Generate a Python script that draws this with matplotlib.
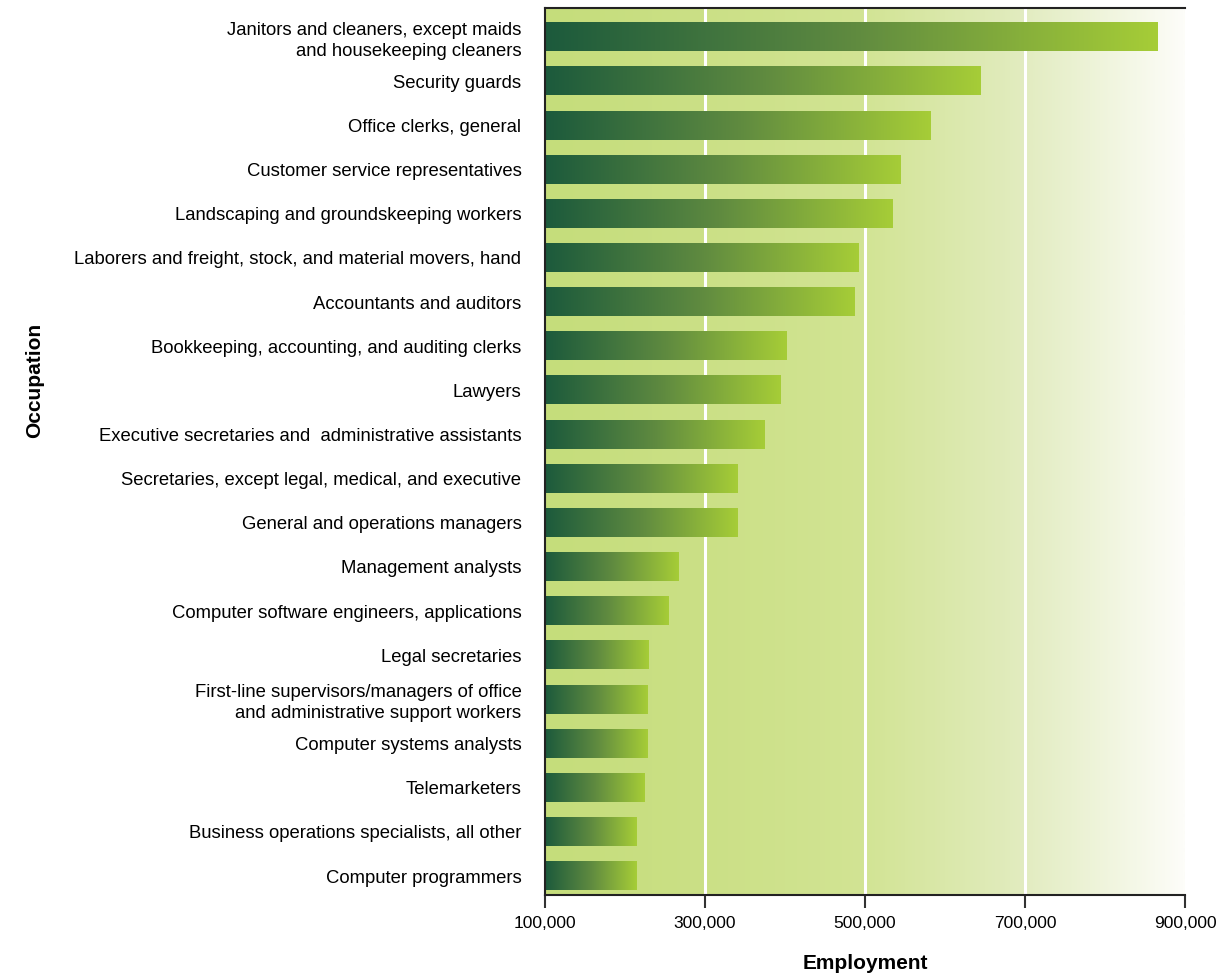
import numpy as np
import matplotlib
matplotlib.use("Agg")
import matplotlib.pyplot as plt
from matplotlib.colors import LinearSegmentedColormap
from matplotlib.ticker import FuncFormatter

occupations = [
    "Janitors and cleaners, except maids\nand housekeeping cleaners",
    "Security guards",
    "Office clerks, general",
    "Customer service representatives",
    "Landscaping and groundskeeping workers",
    "Laborers and freight, stock, and material movers, hand",
    "Accountants and auditors",
    "Bookkeeping, accounting, and auditing clerks",
    "Lawyers",
    "Executive secretaries and  administrative assistants",
    "Secretaries, except legal, medical, and executive",
    "General and operations managers",
    "Management analysts",
    "Computer software engineers, applications",
    "Legal secretaries",
    "First-line supervisors/managers of office\nand administrative support workers",
    "Computer systems analysts",
    "Telemarketers",
    "Business operations specialists, all other",
    "Computer programmers",
]
employment = [866000, 644000, 582000, 545000, 535000, 492000, 487000, 402000,
              395000, 374000, 341000, 341000, 267000, 254000, 230000, 228000,
              228000, 225000, 215000, 215000]
xticks = [100000, 300000, 500000, 700000, 900000]

plt.rcParams['font.family'] = ['Liberation Sans', 'DejaVu Sans']

fig = plt.figure(figsize=(12.22, 9.8), dpi=100)
ax = fig.add_axes([545/1222, 1 - 895/980, 640/1222, 887/980])

xmin, xmax = 100000, 900000
n = len(occupations)
ylo, yhi = n - 1 + 0.43, -0.66
ax.set_xlim(xmin, xmax)
ax.set_ylim(ylo, yhi)

bg_cmap = LinearSegmentedColormap.from_list(
    "bg", [(0, "#c5dd7b"), (0.25, "#cbe086"), (0.5, "#d2e494"), (0.75, "#e2ecc0"), (1.0, "#fdfdf9")])
grad = np.linspace(0, 1, 512).reshape(1, -1)
ax.imshow(grad, cmap=bg_cmap, extent=[xmin, xmax, ylo, yhi], aspect='auto', zorder=0)

for gx in [300000, 500000, 700000]:
    ax.axvline(gx, color='white', lw=2.2, zorder=1)

bar_cmap = LinearSegmentedColormap.from_list("bar", ["#1c5a3c", "#5f8a40", "#a6cd37"])
h = 0.64
for i, v in enumerate(employment):
    ax.imshow(grad, cmap=bar_cmap, extent=[xmin, v, i + h/2, i - h/2], aspect='auto', zorder=2)

ax.set_xlim(xmin, xmax)
ax.set_ylim(ylo, yhi)

ax.set_yticks(range(n))
ax.set_yticklabels(occupations, fontsize=13.3, linespacing=1.3)
ax.tick_params(axis='y', length=0, pad=17)
ax.set_xticks(xticks)
ax.xaxis.set_major_formatter(FuncFormatter(lambda x, p: f"{int(x):,}"))
ax.tick_params(axis='x', labelsize=12.5, length=9, width=1.5, color='#333333', pad=6)

ax.spines['right'].set_visible(False)
for s in ['top', 'left', 'bottom']:
    ax.spines[s].set_linewidth(1.5)
    ax.spines[s].set_color('#222222')

ax.set_xlabel("Employment", fontsize=15, fontweight='bold', labelpad=17)
fig.text(35/1222, 1 - 380/980, "Occupation", rotation=90, fontsize=15, fontweight='bold',
         ha='center', va='center')

fig.savefig("out.png", dpi=100)
